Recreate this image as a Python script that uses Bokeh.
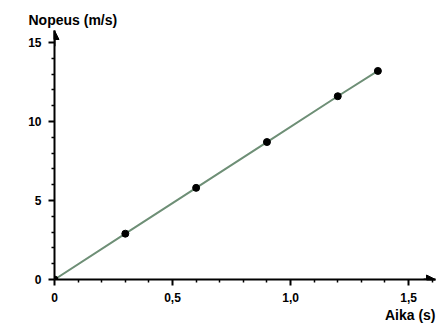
from bokeh.plotting import figure
from bokeh.models import (FixedTicker, CustomJSTickFormatter, Arrow, NormalHead,
                          Title, Range1d)
from bokeh.embed import file_html
from bokeh.resources import INLINE

# data
time_s = [0, 0.3, 0.6, 0.9, 1.2, 1.37]
speed_ms = [0, 2.9, 5.8, 8.7, 11.6, 13.2]
x_ticks = [0, 0.5, 1.0, 1.5]
x_minor = [0.1, 0.2, 0.3, 0.4, 0.6, 0.7, 0.8, 0.9, 1.1, 1.2, 1.3, 1.4, 1.6]
y_ticks = [0, 5, 10, 15]
y_minor = [1, 2, 3, 4, 6, 7, 8, 9, 11, 12, 13, 14]
x_label = "Aika (s)"
y_label = "Nopeus (m/s)"

X_END = 1.614
Y_END = 15.76
FONT = "Liberation Sans"

p = figure(width=441, height=328, output_backend="svg", toolbar_location=None,
           x_range=Range1d(0, X_END), y_range=Range1d(0, Y_END),
           min_border_left=54, min_border_bottom=49, min_border_top=30,
           min_border_right=6)
p.outline_line_color = None
p.grid.grid_line_color = None
p.background_fill_color = "white"
p.border_fill_color = "white"

p.line(time_s, speed_ms, line_color="#6e8f76", line_width=2)
p.scatter(time_s, speed_ms, size=7, color="black")

fmt = CustomJSTickFormatter(code="return tick === 0 ? '0' : tick.toFixed(1).replace('.', ',');")
for ax in p.xaxis:
    ax.ticker = FixedTicker(ticks=x_ticks, minor_ticks=x_minor)
    ax.formatter = fmt
for ax in p.yaxis:
    ax.ticker = FixedTicker(ticks=y_ticks, minor_ticks=y_minor)

for ax in list(p.xaxis) + list(p.yaxis):
    ax.axis_line_width = 2
    ax.axis_line_color = "black"
    ax.major_tick_line_width = 2
    ax.minor_tick_line_width = 1.5
    ax.major_tick_out = 6
    ax.major_tick_in = 0
    ax.minor_tick_out = 3
    ax.minor_tick_in = 0
    ax.major_label_text_font = FONT
    ax.major_label_text_font_style = "bold"
    ax.major_label_text_font_size = "12px"
    ax.major_label_text_color = "black"
    ax.major_label_standoff = 7

# arrow heads on the axes
p.add_layout(Arrow(end=NormalHead(size=9, fill_color="black", line_color="black"),
                   x_start=0, y_start=Y_END - 1.0, x_end=0, y_end=Y_END,
                   line_color="black", line_width=2))
p.add_layout(Arrow(end=NormalHead(size=9, fill_color="black", line_color="black"),
                   x_start=X_END - 0.05, y_start=0, x_end=X_END, y_end=0,
                   line_color="black", line_width=2))

p.add_layout(Title(text=y_label, align="left", offset=-26, text_font=FONT,
                   text_font_style="bold", text_font_size="14px",
                   text_color="black", standoff=6), "above")
p.add_layout(Title(text=x_label, align="right", text_font=FONT,
                   text_font_style="bold", text_font_size="14px",
                   text_color="black", standoff=0), "below")

open("out.html", "w").write(file_html(p, INLINE))
